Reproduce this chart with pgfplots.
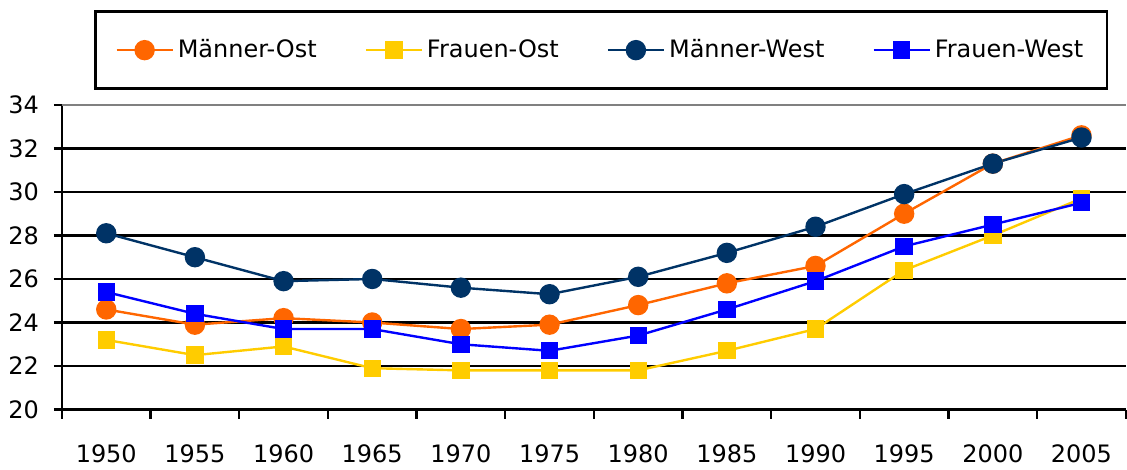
\documentclass[border=0pt]{standalone}
\usepackage{fontspec}
\setmainfont{DejaVu Sans}
\usepackage{pgfplots}
\pgfplotsset{compat=1.18}
\definecolor{cMO}{RGB}{255,102,0}
\definecolor{cFO}{RGB}{255,204,0}
\definecolor{cMW}{RGB}{0,51,102}
\definecolor{cFW}{RGB}{0,0,255}
\begin{document}
\begin{tikzpicture}
\begin{axis}[
  scale only axis,
  width=532.5pt, height=152.5pt,
  xmin=-0.5, xmax=11.5, ymin=20, ymax=34,
  axis x line*=bottom, axis y line*=left,
  axis line style={black, line width=1.2pt, -},
  xtick={0,...,11},
  xticklabels={1950,1955,1960,1965,1970,1975,1980,1985,1990,1995,2000,2005},
  minor xtick={-0.5,0.5,...,11.5},
  major x tick style={draw=none},
  minor tick length=4.5pt,
  minor x tick style={black, line width=1.2pt},
  ytick={20,22,...,34},
  major tick length=4pt,
  y tick style={black, line width=1.2pt},
  tick align=outside,
  ymajorgrids,
  major grid style={black, line width=1.2pt},
  /pgf/number format/assume math mode=true,
  ticklabel style={font=\fontsize{12}{14}\selectfont},
  xticklabel style={yshift=-10pt},
  yticklabel style={xshift=-4pt},
  clip=false,
  legend columns=4,
  legend style={at={(0.507,1)}, anchor=south, yshift=7.5pt,
    draw=black, line width=1.2pt, font=\fontsize{12}{14}\selectfont,
    inner xsep=10pt, inner ysep=12pt,
    /tikz/every even column/.append style={column sep=22pt}},
  legend image code/.code={\draw[mark repeat=2,mark phase=2,#1] plot coordinates {(0pt,0pt) (14pt,0pt) (28pt,0pt)};},
]
\draw[gray, line width=1.2pt] (rel axis cs:0,1) -- (rel axis cs:1,1);
\addplot[cMO, line width=1.2pt, mark=*, mark size=4.5pt, mark options={fill=cMO, draw=cMO}] coordinates {
(0,24.6) (1,23.9) (2,24.2) (3,24.0) (4,23.7) (5,23.9) (6,24.8) (7,25.8) (8,26.6) (9,29.0) (10,31.3) (11,32.6)};
\addlegendentry{Männer-Ost}
\addplot[cFO, line width=1.2pt, mark=square*, mark size=3.75pt, mark options={fill=cFO, draw=cFO}] coordinates {
(0,23.2) (1,22.5) (2,22.9) (3,21.9) (4,21.8) (5,21.8) (6,21.8) (7,22.7) (8,23.7) (9,26.4) (10,28.0) (11,29.7)};
\addlegendentry{Frauen-Ost}
\addplot[cMW, line width=1.2pt, mark=*, mark size=4.5pt, mark options={fill=cMW, draw=cMW}] coordinates {
(0,28.1) (1,27.0) (2,25.9) (3,26.0) (4,25.6) (5,25.3) (6,26.1) (7,27.2) (8,28.4) (9,29.9) (10,31.3) (11,32.5)};
\addlegendentry{Männer-West}
\addplot[cFW, line width=1.2pt, mark=square*, mark size=3.75pt, mark options={fill=cFW, draw=cFW}] coordinates {
(0,25.4) (1,24.4) (2,23.7) (3,23.7) (4,23.0) (5,22.7) (6,23.4) (7,24.6) (8,25.9) (9,27.5) (10,28.5) (11,29.5)};
\addlegendentry{Frauen-West}
\path (rel axis cs:0,0) ++(-31pt,-29pt) (rel axis cs:1,1) ++(0pt,52.5pt);
\end{axis}
\end{tikzpicture}
\end{document}
